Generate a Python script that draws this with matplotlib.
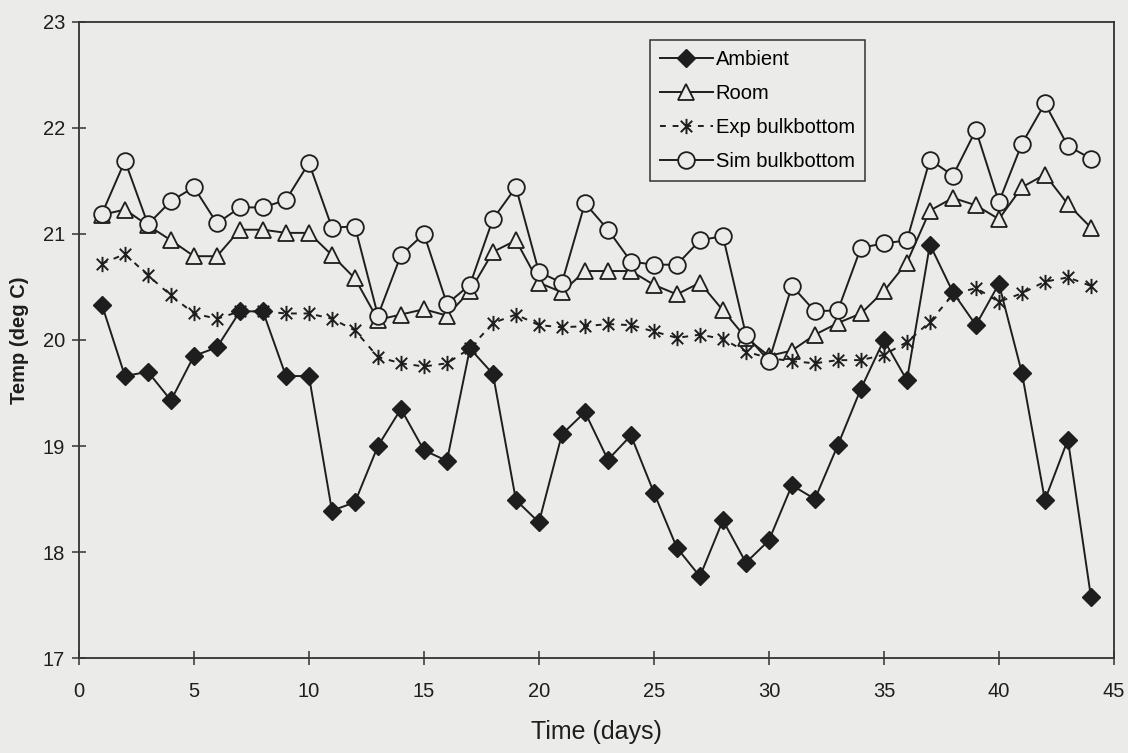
import numpy as np
import matplotlib
matplotlib.use("Agg")
import matplotlib.pyplot as plt
from matplotlib.path import Path

plt.rcParams['font.family'] = ['Liberation Sans', 'DejaVu Sans']

# storage time (days)
days = list(range(1, 45))

ambient = [20.33, 19.66, 19.70, 19.43, 19.85, 19.93, 20.27, 20.27, 19.66, 19.66,
           18.39, 18.47, 19.00, 19.35, 18.96, 18.86, 19.92, 19.68, 18.49, 18.28,
           19.11, 19.32, 18.87, 19.10, 18.56, 18.04, 17.77, 18.30, 17.90, 18.11,
           18.63, 18.50, 19.01, 19.54, 20.00, 19.62, 20.90, 20.45, 20.14, 20.53,
           19.69, 18.49, 19.06, 17.58]

room = [21.18, 21.23, 21.08, 20.94, 20.79, 20.79, 21.04, 21.04, 21.01, 21.01,
        20.80, 20.58, 20.19, 20.24, 20.29, 20.23, 20.46, 20.83, 20.94, 20.54,
        20.45, 20.65, 20.65, 20.65, 20.52, 20.43, 20.54, 20.28, 20.02, 19.85,
        19.90, 20.05, 20.16, 20.25, 20.46, 20.73, 21.22, 21.34, 21.27, 21.14,
        21.44, 21.56, 21.28, 21.06]

exp_bb = [20.72, 20.81, 20.61, 20.42, 20.25, 20.20, 20.27, 20.27, 20.25, 20.25,
          20.20, 20.09, 19.84, 19.78, 19.75, 19.78, 19.92, 20.16, 20.24, 20.14,
          20.12, 20.13, 20.15, 20.14, 20.08, 20.02, 20.05, 20.01, 19.89, 19.83,
          19.80, 19.78, 19.81, 19.81, 19.86, 19.98, 20.17, 20.43, 20.49, 20.36,
          20.44, 20.55, 20.59, 20.51]

sim_bb = [21.19, 21.69, 21.09, 21.31, 21.44, 21.10, 21.25, 21.25, 21.32, 21.67,
          21.06, 21.07, 20.23, 20.80, 21.00, 20.34, 20.52, 21.14, 21.44, 20.64,
          20.54, 21.29, 21.04, 20.74, 20.71, 20.71, 20.94, 20.98, 20.05, 19.80,
          20.51, 20.27, 20.28, 20.87, 20.91, 20.94, 21.70, 21.55, 21.98, 21.30,
          21.85, 22.23, 21.83, 21.71]

# asterisk marker: vertical bar plus an X
a = 0.75
star = Path([(0, -1), (0, 1), (-a, -a), (a, a), (-a, a), (a, -a)],
            [Path.MOVETO, Path.LINETO, Path.MOVETO, Path.LINETO,
             Path.MOVETO, Path.LINETO])

bg = '#ebebe9'
ink = '#1e1e1e'

fig = plt.figure(figsize=(11.28, 7.53), dpi=100, facecolor=bg)
ax = fig.add_axes([0.070, 0.126, 0.9175, 0.845], facecolor=bg)

ax.plot(days, ambient, color=ink, lw=1.4, marker='D', ms=9.5,
        mfc=ink, mec=ink, label='Ambient')
ax.plot(days, room, color=ink, lw=1.4, marker='^', ms=11,
        mfc=bg, mec=ink, mew=1.3, label='Room')
ax.plot(days, exp_bb, color=ink, lw=1.4, ls=(0, (3, 3.5)), marker=star, ms=11,
        mfc='none', mec=ink, mew=1.4, label='Exp bulkbottom')
ax.plot(days, sim_bb, color=ink, lw=1.4, marker='o', ms=12,
        mfc=bg, mec=ink, mew=1.3, label='Sim bulkbottom')

ax.set_xlim(0, 45)
ax.set_ylim(17, 23)
ax.set_xticks(range(0, 46, 5))
ax.set_yticks(range(17, 24))

for s in ax.spines.values():
    s.set_color('#333333')
    s.set_linewidth(1.3)
ax.tick_params(direction='inout', length=10, width=1.1, color='#333333',
               labelsize=14.5, labelcolor=ink)
ax.tick_params(axis='x', pad=12)
ax.tick_params(axis='y', pad=5)

ax.set_xlabel('Time (days)', fontsize=18, color=ink, labelpad=14)
ax.set_ylabel('Temp (deg C)', fontsize=14.5, fontweight='bold', color=ink, labelpad=10)

leg = ax.legend(loc='upper left', bbox_to_anchor=(0.552, 0.972), fontsize=14.5,
                numpoints=1, handlelength=2.6, handletextpad=0.15,
                borderpad=0.5, labelspacing=0.75, fancybox=False,
                frameon=True, borderaxespad=0)
leg.get_frame().set_edgecolor('#333333')
leg.get_frame().set_linewidth(1.1)
leg.get_frame().set_facecolor(bg)
leg.get_frame().set_alpha(1)

fig.savefig('out.png', dpi=100, facecolor=bg)
